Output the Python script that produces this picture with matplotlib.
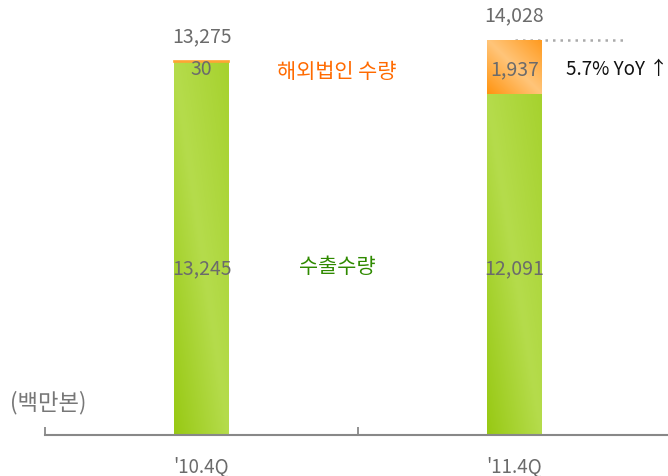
import numpy as np
import matplotlib.pyplot as plt
from matplotlib.colors import LinearSegmentedColormap

plt.rcParams['font.family'] = ['Noto Sans CJK KR', 'DejaVu Sans']

quarters = ["'10.4Q", "'11.4Q"]
export_qty = [13245, 12091]
overseas_qty = [30, 1937]
totals = [13275, 14028]
yoy_pct = 5.7

GRAY = "#6b6b6b"
green_cmap = LinearSegmentedColormap.from_list("g", ["#98c914", "#b5dc4c", "#a6d22e"])
orange_cmap = LinearSegmentedColormap.from_list("o", ["#ff9410", "#ffc57a", "#ff9a1e"])


def fill_gradient(ax, patch, cmap):
    x0, y0 = patch.get_x(), patch.get_y()
    w, h = patch.get_width(), patch.get_height()
    xx, yy = np.meshgrid(np.linspace(0, 1, 60), np.linspace(0, 1, 60))
    z = xx * 0.5 + yy * 0.5
    im = ax.imshow(z, cmap=cmap, extent=[x0, x0 + w, y0, y0 + h], origin="lower",
                   aspect="auto", zorder=2, vmin=0, vmax=1)
    im.set_clip_path(patch)


fig = plt.figure(figsize=(6.68, 4.77), dpi=100)
ax = fig.add_axes([45 / 668, 41 / 477, 626 / 668, 436 / 477])

x = np.arange(len(quarters))
w = 0.173
gbars = ax.bar(x, export_qty, w, color="none", edgecolor="none")
obars = ax.bar(x, overseas_qty, w, bottom=export_qty, color="none", edgecolor="none")
for p in gbars:
    fill_gradient(ax, p, green_cmap)
for p in obars:
    fill_gradient(ax, p, orange_cmap)
# thin orange cap so the tiny overseas value stays visible
ax.bar(x[0], overseas_qty[0], w, bottom=export_qty[0], color="#ffa534",
       edgecolor="#ffa534", lw=1.2, zorder=3)

ax.set_xlim(-0.5, 1.5)
ax.set_ylim(0, 15480)

for i in x:
    ax.annotate(f"{totals[i]:,}", (i, totals[i]), textcoords="offset points",
                xytext=(0, 18), ha="center", va="center", fontsize=14, color=GRAY)
    ax.text(i, 12995, f"{overseas_qty[i]:,}", ha="center", va="center",
            fontsize=14, color=GRAY, zorder=4)
    ax.text(i, 5950, f"{export_qty[i]:,}", ha="center", va="center",
            fontsize=14, color=GRAY, zorder=4)

ax.text(0.432, 12920, "해외법인 수량", ha="center", va="center", fontsize=15,
        color="#ff6a00")
ax.text(0.435, 5990, "수출수량", ha="center", va="center", fontsize=15,
        color="#2f8a00")

ax.plot([1.0, 1.36], [totals[1], totals[1]], ls=(0, (1, 2)), color="#aaaaaa", lw=1.8, zorder=1)
ax.text(1.165, 12995, f"{yoy_pct}% YoY ↑", ha="left", va="center", fontsize=13.5,
        color="#111111")

fig.text(10 / 668, 1 - 403 / 477, "(백만본)", ha="left", va="center", fontsize=16,
         color="#777777")

for s in ["top", "left", "right"]:
    ax.spines[s].set_visible(False)
ax.spines["bottom"].set_color("#888888")
ax.spines["bottom"].set_linewidth(1.5)
ax.set_yticks([])
ax.set_xticks(x)
ax.set_xticklabels(quarters, fontsize=13.5, color=GRAY)
ax.tick_params(axis="x", which="major", length=0, pad=15)
ax.set_xticks([-0.5, 0.5, 1.5], minor=True)
ax.tick_params(axis="x", which="minor", direction="in", length=6, width=1.3, color="#888888")

fig.savefig("out.png", dpi=100)
